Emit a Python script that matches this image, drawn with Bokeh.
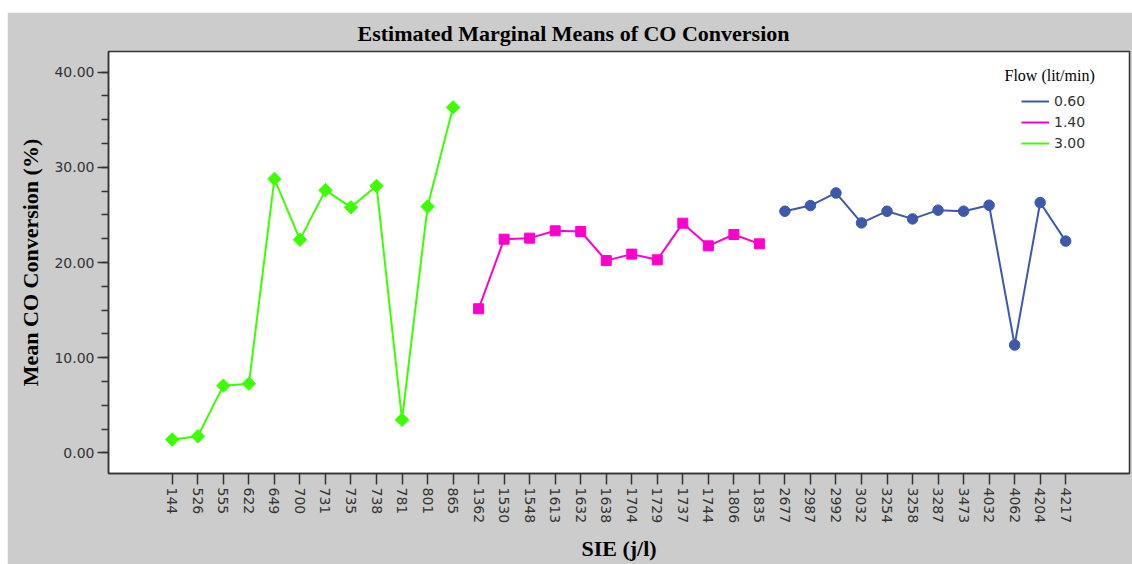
import numpy as np
from bokeh.plotting import figure
from bokeh.models import (Range1d, FixedTicker, PrintfTickFormatter, Legend,
                          LegendItem, Label)
from bokeh.embed import file_html
from bokeh.resources import INLINE

# SIE (j/l) levels, in axis order, grouped by flow rate
sie_30 = ["144", "526", "555", "622", "649", "700", "731", "735", "738",
          "781", "801", "865"]
sie_14 = ["1362", "1530", "1548", "1613", "1632", "1638", "1704", "1729",
          "1737", "1744", "1806", "1835"]
sie_06 = ["2677", "2987", "2992", "3032", "3254", "3258", "3287", "3473",
          "4032", "4062", "4204", "4217"]

# Estimated marginal means of CO conversion (%)
co_30 = [1.40, 1.74, 7.06, 7.27, 28.78, 22.40, 27.60, 25.80, 28.05, 3.47,
         25.88, 36.30]
co_14 = [15.14, 22.45, 22.56, 23.33, 23.26, 20.20, 20.88, 20.28, 24.13,
         21.75, 22.94, 21.96]
co_06 = [25.39, 25.98, 27.31, 24.16, 25.39, 24.58, 25.50, 25.39, 26.02,
         11.33, 26.30, 22.25]

flow_labels = ["0.60", "1.40", "3.00"]
y_ticks = [0, 10, 20, 30, 40]

categories = sie_30 + sie_14 + sie_06
pos = {c: i for i, c in enumerate(categories)}

GRAY = "#cccccc"
GREEN = "#3cff00"
MAGENTA = "#ff00cc"
BLUE = "#3e58ac"
SERIF = "Liberation Serif"
SANS = "DejaVu Sans"

p = figure(width=1125, height=552, output_backend="svg", toolbar_location=None,
           x_range=Range1d(-2.5, len(categories) - 1 + 2.5),
           y_range=Range1d(-2.17, 42.17),
           min_border_left=101, min_border_right=3, min_border_top=39,
           min_border_bottom=90)
p.margin = (12, 0, 0, 7)
p.border_fill_color = GRAY
p.background_fill_color = "white"
p.outline_line_color = "#333333"
p.outline_line_width = 1.5
p.grid.visible = False

p.title.text = "Estimated Marginal Means of CO Conversion"
p.title.text_font = SERIF
p.title.text_font_style = "bold"
p.title.text_font_size = "22px"
p.title.text_color = "black"
p.title.align = "left"
p.title.offset = 249
p.title.standoff = 12

# x axis: one tick per SIE level, labels turned to read downwards
xa = p.xaxis[0]
xa.ticker = FixedTicker(ticks=list(range(len(categories))))
xa.major_label_overrides = {i: c for i, c in enumerate(categories)}
xa.major_label_orientation = -np.pi / 2
xa.axis_label = "SIE (j/l)"

ya = p.yaxis[0]
ya.ticker = FixedTicker(ticks=y_ticks,
                        minor_ticks=list(np.arange(-2.5, 42.6, 2.5)))
ya.formatter = PrintfTickFormatter(format="%.2f")
ya.axis_label = "Mean CO Conversion (%)"

for ax in (xa, ya):
    ax.axis_line_color = "#333333"
    ax.axis_line_width = 1.5
    ax.major_tick_line_color = "#333333"
    ax.major_tick_line_width = 1.5
    ax.major_tick_in = 0
    ax.major_tick_out = 11
    ax.minor_tick_in = 0
    ax.minor_tick_out = 7
    ax.minor_tick_line_color = "#333333"
    ax.minor_tick_line_width = 1.5
    ax.major_label_text_font = SANS
    ax.major_label_text_font_size = "14px"
    ax.major_label_text_color = "#333333"
    ax.major_label_standoff = 3
    ax.axis_label_text_font = SERIF
    ax.axis_label_text_font_style = "bold"
    ax.axis_label_text_font_size = "22px"
    ax.axis_label_text_color = "black"
    ax.axis_label_standoff = 10
xa.minor_tick_line_color = None
ya.axis_label_standoff = 8

# series: 3.00 lit/min (diamonds), 1.40 (squares), 0.60 (circles)
x30 = [pos[c] for c in sie_30]
x14 = [pos[c] for c in sie_14]
x06 = [pos[c] for c in sie_06]

l30 = p.line(x30, co_30, line_color=GREEN, line_width=2)
p.scatter(x30, co_30, marker="square", angle=np.pi / 4, size=9.5,
          fill_color=GREEN, line_color=GREEN)
l14 = p.line(x14, co_14, line_color=MAGENTA, line_width=2)
p.scatter(x14, co_14, marker="square", size=10,
          fill_color=MAGENTA, line_color=MAGENTA)
l06 = p.line(x06, co_06, line_color=BLUE, line_width=2)
p.scatter(x06, co_06, marker="circle", size=10.5,
          fill_color=BLUE, line_color=BLUE)

legend = Legend(items=[LegendItem(label=flow_labels[0], renderers=[l06]),
                       LegendItem(label=flow_labels[1], renderers=[l14]),
                       LegendItem(label=flow_labels[2], renderers=[l30])],
                location=(913, 320), padding=0, margin=0, spacing=1,
                glyph_width=28, glyph_height=20, label_height=20,
                label_standoff=5, label_text_font=SANS,
                label_text_font_size="14px", label_text_color="#333333",
                background_fill_alpha=0, border_line_color=None)
p.add_layout(legend)

p.add_layout(Label(x=896, y=398, x_units="screen", y_units="screen",
                   text="Flow (lit/min)", text_font=SERIF,
                   text_font_size="16px", text_color="black",
                   text_baseline="middle", text_align="left"))

open("out.html", "w").write(file_html(p, INLINE))
